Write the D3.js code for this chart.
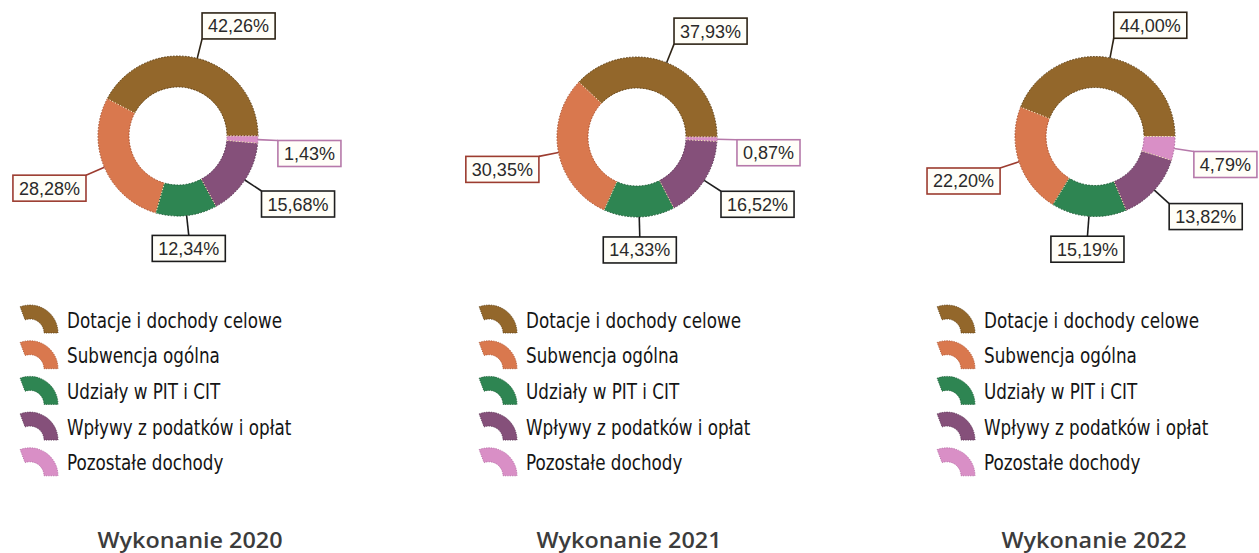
<!DOCTYPE html>
<html>
<head>
<meta charset="utf-8">
<script src="https://cdn.jsdelivr.net/npm/d3@7/dist/d3.min.js"></script>
<style>
  html, body { margin: 0; padding: 0; background: #ffffff; }
  svg { display: block; }
</style>
</head>
<body>
<svg id="chart" width="1259" height="553"></svg>
<script>
// ---- data ----
const categories = ["Dotacje i dochody celowe", "Subwencja ogólna", "Udziały w PIT i CIT", "Wpływy z podatków i opłat", "Pozostałe dochody"];
const years = ["Wykonanie 2020", "Wykonanie 2021", "Wykonanie 2022"];
const values2020 = [42.26, 28.28, 12.34, 15.68, 1.43];
const values2021 = [37.93, 30.35, 14.33, 16.52, 0.87];
const values2022 = [44.00, 22.20, 15.19, 13.82, 4.79];
const seriesValues = [values2020, values2021, values2022];

// ---- styles / layout ----
const sliceColors = ["#93672b", "#d9784e", "#2e8552", "#85507a", "#d98fc6"];
const sliceEdge   = ["#5a3c14", "#a8502e", "#1d5a36", "#573050", "#b066a0"];
const boxBorder   = ["#2e2416", "#9c3c30", "#1c1c1c", "#1f1f1f", "#b679aa"];
const panels = [
  { cx: 178,  cy: 136,   titleX: 190 },
  { cx: 637,  cy: 137,   titleX: 629 },
  { cx: 1095, cy: 136.5, titleX: 1094 }
];
const R = 80, r = 49, leaderLen = 20, boxH = 26, boxPad = 6;
const legendTop = 320, legendStep = 35.7;

const svg = d3.select("#chart");
const fmt = v => d3.format(".2f")(v).replace(".", ",") + "%";

const pie = d3.pie().sort(null).value(d => d)
  .startAngle(Math.PI / 2).endAngle(Math.PI / 2 - 2 * Math.PI);
const arc = d3.arc().innerRadius(r).outerRadius(R);

const iconArc = d3.arc().innerRadius(14).outerRadius(28)
  .startAngle(-0.36).endAngle(Math.PI / 2);

const colorScale = d3.scaleOrdinal().domain(categories).range(sliceColors);
const edgeScale = d3.scaleOrdinal().domain(categories).range(sliceEdge);
const borderScale = d3.scaleOrdinal().domain(categories).range(boxBorder);

panels.forEach((p, pi) => {
  const vals = seriesValues[pi];
  const g = svg.append("g").attr("transform", `translate(${p.cx},${p.cy})`);
  const arcs = pie(vals);

  g.selectAll("path.slice").data(arcs).enter().append("path")
    .attr("class", "slice")
    .attr("d", arc)
    .attr("fill", (d, i) => colorScale(categories[i]))
    .attr("stroke", (d, i) => edgeScale(categories[i]))
    .attr("stroke-width", 1)
    .attr("stroke-dasharray", "1.5,1.5");

  // separators (light dotted)
  g.selectAll("line.sep").data(arcs).enter().append("line")
    .attr("x1", d => r * Math.sin(d.startAngle))
    .attr("y1", d => -r * Math.cos(d.startAngle))
    .attr("x2", d => R * Math.sin(d.startAngle))
    .attr("y2", d => -R * Math.cos(d.startAngle))
    .attr("stroke", "#f2e6b8")
    .attr("stroke-width", 1)
    .attr("stroke-dasharray", "1.5,1.5");

  // labels
  arcs.forEach((d, i) => {
    const mid = (d.startAngle + d.endAngle) / 2;
    const dx = Math.sin(mid), dy = -Math.cos(mid);
    const sx = R * dx, sy = R * dy;
    const ex = (R + leaderLen) * dx, ey = (R + leaderLen) * dy;
    const col = borderScale(categories[i]);
    g.append("line")
      .attr("x1", sx).attr("y1", sy).attr("x2", ex).attr("y2", ey)
      .attr("stroke", col).attr("stroke-width", 1.6);
    const lg = g.append("g");
    const rect = lg.append("rect");
    const t = lg.append("text")
      .text(fmt(vals[i]))
      .attr("font-family", "'Liberation Sans', Arial, sans-serif")
      .attr("font-size", 18)
      .attr("fill", "#2a2a2a");
    const tw = t.node().getComputedTextLength();
    const w = tw + boxPad * 2;
    let bx, by;
    if (Math.abs(dx) < 0.15) bx = ex - w / 2;
    else if (dx > 0) bx = ex;
    else bx = ex - w;
    if (dy < 0) by = ey - boxH; else by = ey;
    rect.attr("x", bx).attr("y", by).attr("width", w).attr("height", boxH)
      .attr("fill", "#fffef8").attr("stroke", col).attr("stroke-width", 1.6);
    t.attr("x", bx + boxPad).attr("y", by + boxH / 2 + 6.5);
  });

  // legend
  const lx = p.cx - 158;
  const legend = svg.append("g");
  const texts = [];
  categories.forEach((c, i) => {
    const rowY = legendTop + i * legendStep;
    legend.append("path")
      .attr("d", iconArc)
      .attr("transform", `translate(${lx + 10},${rowY + 13})`)
      .attr("fill", colorScale(c))
      .attr("stroke", edgeScale(c))
      .attr("stroke-width", 0.8)
      .attr("stroke-dasharray", "1.2,1.2");
    const t = legend.append("text")
      .attr("x", lx + 47).attr("y", rowY + 7.5)
      .attr("font-family", "'DejaVu Sans Condensed', 'DejaVu Sans', sans-serif")
      .attr("font-size", 21)
      .attr("fill", "#151515")
      .text(c);
    texts.push(t);
  });
  const w0 = texts[0].node().getComputedTextLength();
  const k = 215 / w0;
  texts.forEach(t => {
    const w = t.node().getComputedTextLength();
    t.attr("textLength", w * k).attr("lengthAdjust", "spacingAndGlyphs");
  });

  // title
  const tt = svg.append("text")
    .attr("x", p.titleX).attr("y", 548)
    .attr("text-anchor", "middle")
    .attr("font-family", "'Open Sans', sans-serif")
    .attr("font-weight", 600)
    .attr("font-size", 22)
    .attr("fill", "#3c3c3c")
    .text(years[pi]);
  tt.attr("textLength", 185).attr("lengthAdjust", "spacingAndGlyphs");
});
</script>
</body>
</html>
